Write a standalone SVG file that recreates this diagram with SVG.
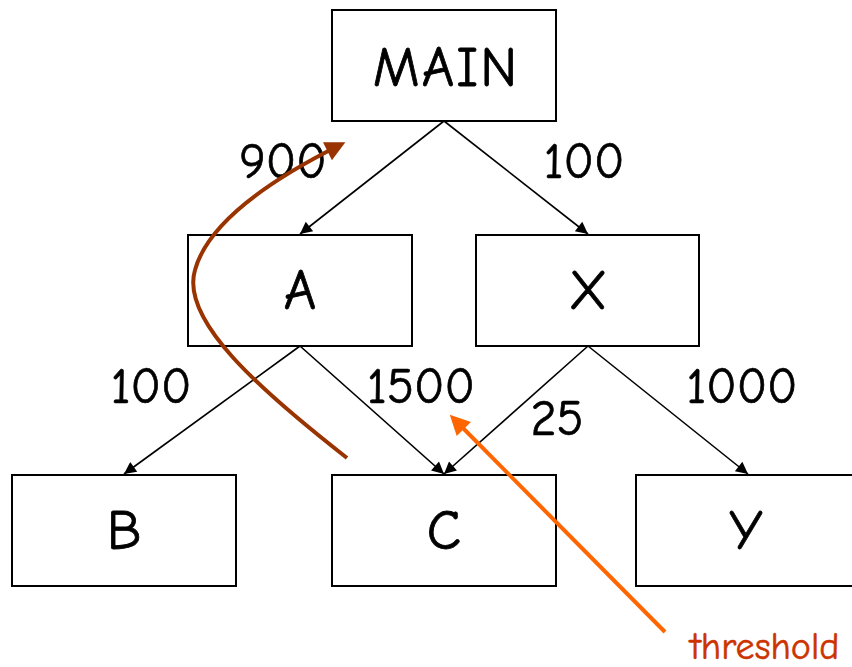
<svg xmlns="http://www.w3.org/2000/svg" width="852" height="667" viewBox="0 0 852 667">
  <style>
    .box { fill: #ffffff; stroke: #000000; stroke-width: 2; }
    .name { font-family: "Comic Sans MS", "Comic Neue", "DejaVu Sans", sans-serif; font-size: 56px; letter-spacing: 2px; fill: #000000; stroke: #000000; stroke-width: 0.8; text-anchor: middle; }
    .edge { stroke: #000000; stroke-width: 1.6; fill: none; marker-end: url(#tip); }
    .weight { font-family: "Comic Sans MS", "Comic Neue", "DejaVu Sans", sans-serif; font-size: 50px; fill: #000000; stroke: #000000; stroke-width: 0.7; text-anchor: middle; }
  </style>
  <defs>
    <marker id="tip" viewBox="0 0 10 10" refX="10" refY="5" markerWidth="14" markerHeight="12" markerUnits="userSpaceOnUse" orient="auto">
      <path d="M0,0 L10,5 L0,10 Z" fill="#000000"/>
    </marker>
    <marker id="tipBrown" viewBox="0 0 10 10" refX="7" refY="5" markerWidth="5.5" markerHeight="5" orient="auto">
      <path d="M0,0 L10,5 L0,10 Z" fill="#993300"/>
    </marker>
    <marker id="tipOrange" viewBox="0 0 10 10" refX="7" refY="5" markerWidth="5.5" markerHeight="5" orient="auto">
      <path d="M0,0 L10,5 L0,10 Z" fill="#ff6600"/>
    </marker>
  </defs>

  <rect width="852" height="667" fill="#ffffff"/>

  <g id="connectors">
    <line class="edge" x1="444" y1="121" x2="300" y2="234"/>
    <line class="edge" x1="444" y1="121" x2="588" y2="234"/>
    <line class="edge" x1="300" y1="346" x2="124" y2="474"/>
    <line class="edge" x1="300" y1="346" x2="444" y2="474"/>
    <line class="edge" x1="588" y1="346" x2="444" y2="474"/>
    <line class="edge" x1="588" y1="346" x2="748" y2="474"/>
  </g>

  <g id="node-main">
    <rect class="box" x="332" y="10" width="224" height="111"/>
    <text class="name" x="446" y="86">MAIN</text>
  </g>
  <g id="node-a">
    <rect class="box" x="188" y="235" width="224" height="111"/>
    <text class="name" x="301" y="309">A</text>
  </g>
  <g id="node-x">
    <rect class="box" x="476" y="235" width="223" height="111"/>
    <text class="name" x="589" y="309">X</text>
  </g>
  <g id="node-b">
    <rect class="box" x="12" y="475" width="224" height="111"/>
    <text class="name" x="125" y="549">B</text>
  </g>
  <g id="node-c">
    <rect class="box" x="332" y="475" width="224" height="111"/>
    <text class="name" x="445" y="549">C</text>
  </g>
  <g id="node-y">
    <rect class="box" x="636" y="475" width="224" height="111"/>
    <text class="name" x="747" y="549">Y</text>
  </g>

  <g id="weights">
    <text class="weight" x="283" y="178">900</text>
    <text class="weight" x="584" y="178">100</text>
    <text class="weight" x="151" y="403">100</text>
    <text class="weight" x="421" y="403">1500</text>
    <text class="weight" x="557" y="435">25</text>
    <text class="weight" x="742" y="403">1000</text>
  </g>

  <g id="annotations">
    <path d="M347,458 C260,390 180,320 195,270 C210,215 290,170 340,145" fill="none" stroke="#993300" stroke-width="4" marker-end="url(#tipBrown)"/>
    <line x1="665" y1="632" x2="454" y2="419" stroke="#ff6600" stroke-width="4" marker-end="url(#tipOrange)"/>
    <text x="690" y="659" font-family="Comic Sans MS, Comic Neue, DejaVu Sans, sans-serif" font-size="38" fill="#cc3300" stroke="#cc3300" stroke-width="0.5">threshold</text>
  </g>
</svg>
